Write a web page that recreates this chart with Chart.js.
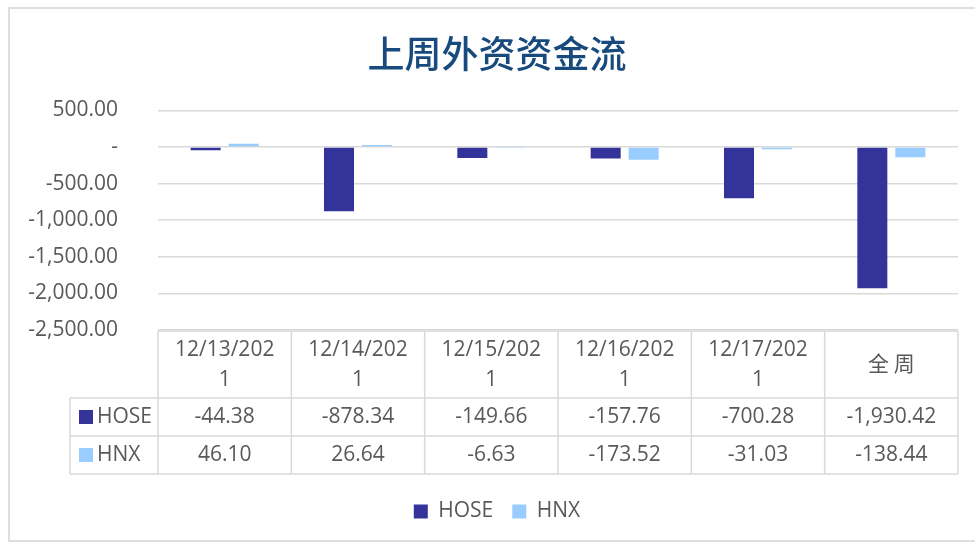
<!DOCTYPE html>
<html>
<head>
<meta charset="utf-8">
<script src="https://cdn.jsdelivr.net/npm/chart.js@4.4.1/dist/chart.umd.min.js"></script>
<style>
    html, body { margin: 0; padding: 0; background: #ffffff; }
</style>
</head>
<body>
<canvas id="flowChart" width="975" height="543"></canvas>
<script>
// 上周外资资金流 (HOSE / HNX)
const categories = ['12/13/2021', '12/14/2021', '12/15/2021', '12/16/2021', '12/17/2021', '全 周'];
const hoseValues = [-44.38, -878.34, -149.66, -157.76, -700.28, -1930.42];
const hnxValues = [46.10, 26.64, -6.63, -173.52, -31.03, -138.44];
const seriesNames = ['HOSE', 'HNX'];
const yMin = -2500;
const yMax = 500;
const yStep = 500;

const textColor = '#595959';
const lineColor = '#d9d9d9';
const latinFont = "'Open Sans', 'Noto Sans', sans-serif";

function fmt(v) {
    return v.toLocaleString('en-US', { minimumFractionDigits: 2, maximumFractionDigits: 2 });
}

// wrap the header label the way the table cell does
function headerLines(label) {
    if (label.length > 9) return [label.slice(0, 9), label.slice(9)];
    return [label];
}

const frameAndTable = {
    id: 'frameAndTable',
    beforeDraw(chart) {
        const ctx = chart.ctx;
        ctx.save();
        ctx.strokeStyle = '#dedede';
        ctx.lineWidth = 2;
        ctx.strokeRect(9, 8, 990, 533);
        ctx.restore();
    },
    afterDraw(chart) {
        const { ctx, chartArea } = chart;
        const x = chart.scales.x;
        const half = (x.getPixelForValue(1) - x.getPixelForValue(0)) / 2;
        const top = chartArea.bottom + 1;
        const headH = 67;
        const rowH = 38;
        const labelLeft = chartArea.left - 88;
        const right = chartArea.right;
        const bottom = top + headH + rowH * 2;

        ctx.save();
        ctx.strokeStyle = lineColor;
        ctx.lineWidth = 1.5;
        ctx.beginPath();
        // horizontal lines
        ctx.moveTo(chartArea.left, top); ctx.lineTo(right, top);
        [top + headH, top + headH + rowH, bottom].forEach(yy => {
            ctx.moveTo(labelLeft, yy); ctx.lineTo(right, yy);
        });
        // vertical lines
        ctx.moveTo(labelLeft, top + headH); ctx.lineTo(labelLeft, bottom);
        categories.forEach((c, i) => {
            const xx = x.getPixelForValue(i) - half;
            ctx.moveTo(xx, top); ctx.lineTo(xx, bottom);
        });
        ctx.moveTo(right, top); ctx.lineTo(right, bottom);
        ctx.stroke();

        ctx.fillStyle = textColor;
        ctx.textAlign = 'center';
        ctx.textBaseline = 'middle';
        ctx.font = '21px ' + latinFont;

        // header
        categories.forEach((c, i) => {
            const cx = x.getPixelForValue(i);
            const lines = headerLines(c);
            const cy = top + headH / 2;
            if (lines.length === 1) {
                ctx.font = '21px "Noto Sans CJK SC", sans-serif';
                ctx.fillText(lines[0], cx, cy - 1);
                ctx.font = '21px ' + latinFont;
            } else {
                ctx.fillText(lines[0], cx, cy - 14);
                ctx.fillText(lines[1], cx, cy + 16);
            }
        });

        // rows
        chart.data.datasets.forEach((ds, r) => {
            const cy = top + headH + rowH * r + rowH / 2;
            ctx.fillStyle = ds.backgroundColor;
            ctx.fillRect(labelLeft + 9, cy - 7, 14, 14);
            ctx.fillStyle = textColor;
            ctx.textAlign = 'left';
            ctx.fillText(ds.label, labelLeft + 27, cy);
            ctx.textAlign = 'center';
            ds.data.forEach((v, i) => {
                ctx.fillText(fmt(v), x.getPixelForValue(i), cy);
            });
        });
        ctx.restore();
    }
};

const ctx = document.getElementById('flowChart').getContext('2d');
new Chart(ctx, {
    type: 'bar',
    data: {
        labels: categories,
        datasets: [
            { label: seriesNames[0], data: hoseValues, backgroundColor: '#333399' },
            { label: seriesNames[1], data: hnxValues, backgroundColor: '#99ccff' }
        ]
    },
    options: {
        responsive: false,
        animation: false,
        categoryPercentage: 0.57,
        barPercentage: 0.79,
        layout: { padding: { top: 12, right: 0, bottom: 11, left: 19 } },
        plugins: {
            title: {
                display: true,
                text: '上周外资资金流',
                color: '#184a7e',
                font: { family: "'Noto Sans CJK SC', sans-serif", size: 37, weight: '500' },
                padding: { top: 20, bottom: 34 }
            },
            legend: {
                position: 'bottom',
                labels: {
                    boxWidth: 14,
                    boxHeight: 14,
                    padding: 19,
                    color: textColor,
                    font: { family: latinFont, size: 21 }
                }
            },
            tooltip: { enabled: false }
        },
        scales: {
            x: {
                grid: { display: false },
                border: { display: false },
                ticks: { display: false },
                afterFit: (s) => { s.height = 152; }
            },
            y: {
                min: yMin,
                max: yMax,
                grid: { color: lineColor, lineWidth: 1.5, drawTicks: false },
                border: { display: false },
                ticks: {
                    stepSize: yStep,
                    padding: 40,
                    color: textColor,
                    font: { family: latinFont, size: 21 },
                    callback: (v) => (v === 0 ? '-' : fmt(v))
                },
                afterFit: (s) => { s.width = 139; }
            },
            // empty right-hand margin so the plot ends where the table ends
            yRight: {
                position: 'right',
                grid: { display: false },
                border: { display: false },
                ticks: { display: false },
                afterFit: (s) => { s.width = 17; }
            }
        }
    },
    plugins: [frameAndTable]
});
</script>
</body>
</html>
